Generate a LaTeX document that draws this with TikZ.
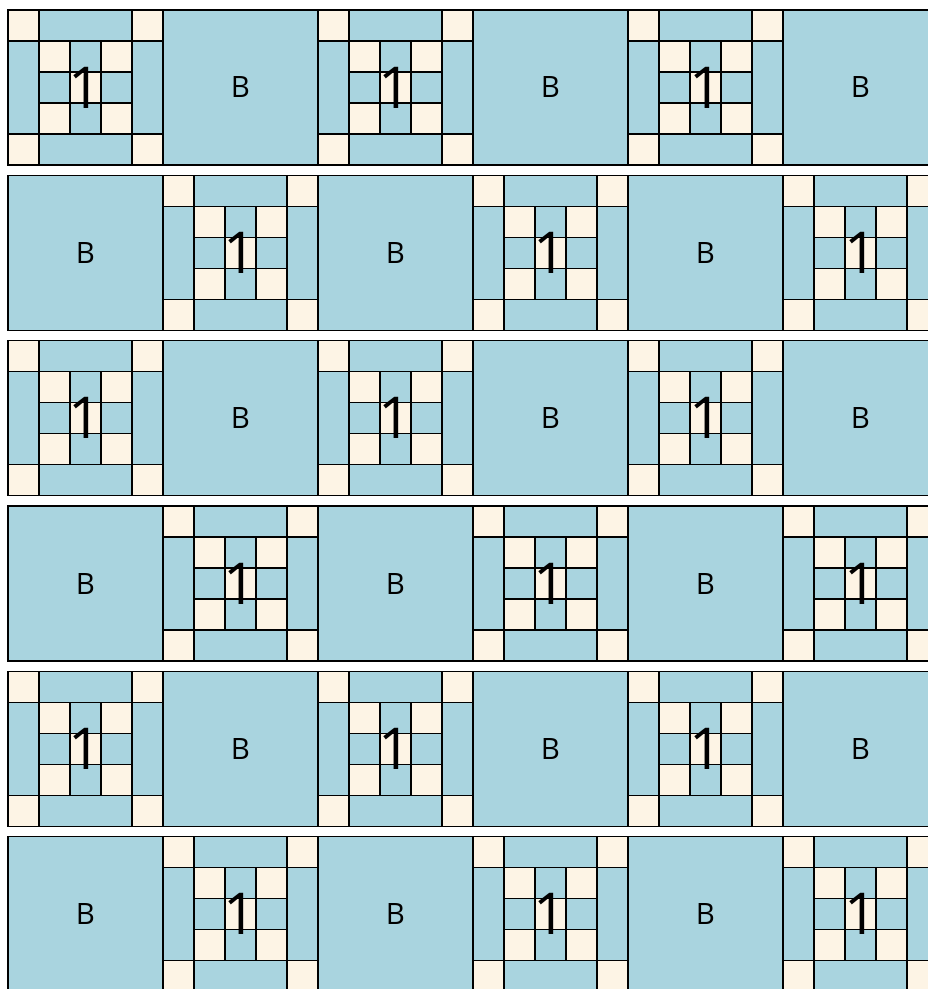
\documentclass[tikz,border=0pt]{standalone}
\usepackage{fontspec}
\setmainfont{Open Sans}
\usetikzlibrary{positioning}
\definecolor{quiltblue}{RGB}{169, 212, 223}
\definecolor{quiltcream}{RGB}{253, 244, 229}

\begin{document}
\begin{tikzpicture}[
    x=1cm, y=-1cm,
    % Patch styles
    patch/.style={
        draw=black,
        line width=1.1pt,
        fill=#1
    },
    onelabel/.style={
        font=\fontsize{53}{53}\selectfont,
        inner sep=0pt
    },
    blabel/.style={
        font=\fontsize{27}{27}\selectfont,
        inner sep=0pt
    }
]
\useasboundingbox (-8/31, -10/31) rectangle (920/31, 979/31);

% ============================================
% QUILT ROWS (1-blocks and B-blocks alternate)
% ============================================
\foreach \r in {0,...,5} {
  \foreach \c in {0,...,5} {
    \pgfmathtruncatemacro{\kind}{mod(\r+\c,2)}
    \begin{scope}[shift={(5*\c, 16/3*\r)}]
      \ifnum\kind=0
        % 1-block: corners, bars, nine-patch
        \draw[patch=quiltblue] (0,0) rectangle (5,5);
        \foreach \p in {(0,0), (4,0), (0,4), (4,4)}
          \draw[patch=quiltcream] \p rectangle ++(1,1);
        \draw[patch=quiltblue] (1,0) rectangle (4,1);
        \draw[patch=quiltblue] (1,4) rectangle (4,5);
        \draw[patch=quiltblue] (0,1) rectangle (1,4);
        \draw[patch=quiltblue] (4,1) rectangle (5,4);
        \foreach \i in {1,2,3} {
          \foreach \j in {1,2,3} {
            \pgfmathtruncatemacro{\odd}{mod(\i+\j,2)}
            \ifnum\odd=0
              \draw[patch=quiltcream] (\i,\j) rectangle ++(1,1);
            \else
              \draw[patch=quiltblue] (\i,\j) rectangle ++(1,1);
            \fi
          }
        }
        \node[onelabel] (one-\r-\c) at (2.5,2.5) {1};
      \else
        % B-block: plain square
        \draw[patch=quiltblue] (0,0) rectangle (5,5);
        \node[blabel] (b-\r-\c) at (2.5,2.5) {B};
      \fi
    \end{scope}
  }
}

\end{tikzpicture}
\end{document}
